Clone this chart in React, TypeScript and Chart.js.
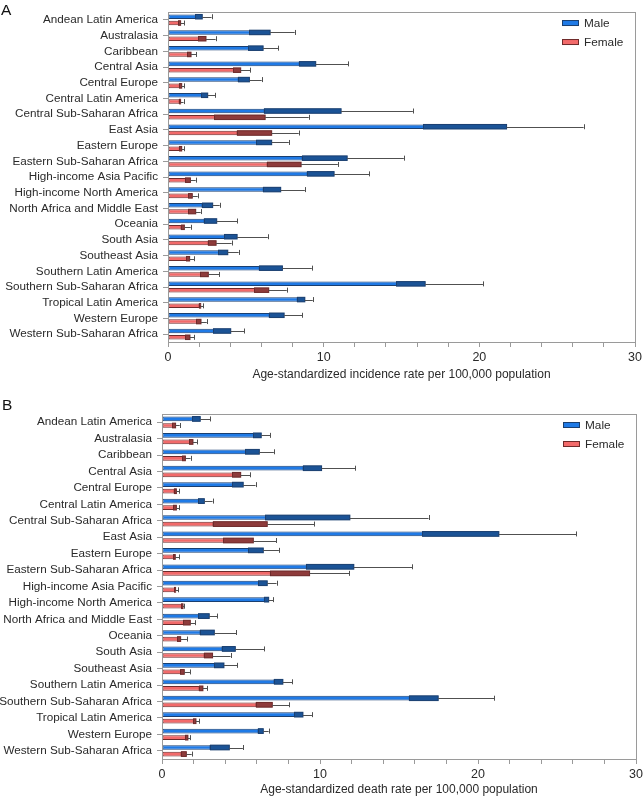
import React, { useEffect, useRef } from "react";
import { Chart, registerables } from "chart.js";
Chart.register(...registerables);

const regions = [
  "Andean Latin America", "Australasia", "Caribbean", "Central Asia", "Central Europe",
  "Central Latin America", "Central Sub-Saharan Africa", "East Asia", "Eastern Europe",
  "Eastern Sub-Saharan Africa", "High-income Asia Pacific", "High-income North America",
  "North Africa and Middle East", "Oceania", "South Asia", "Southeast Asia",
  "Southern Latin America", "Southern Sub-Saharan Africa", "Tropical Latin America",
  "Western Europe", "Western Sub-Saharan Africa",
];

const incMale = [2.2, 6.56, 6.11, 9.49, 5.23, 2.55, 11.12, 21.75, 6.66, 11.51, 10.67, 7.24, 2.87, 3.13, 4.44, 3.84, 7.35, 16.52, 8.79, 7.46, 4.03];
const incMaleLow = [1.76, 5.23, 5.16, 8.4, 4.48, 2.14, 6.15, 16.41, 5.68, 8.59, 8.91, 6.09, 2.16, 2.29, 3.62, 3.24, 5.83, 14.66, 8.27, 6.47, 2.89];
const incMaleUp = [2.8, 8.14, 7.09, 11.57, 6.02, 3.02, 15.73, 26.7, 7.76, 15.15, 12.92, 8.79, 3.32, 4.44, 6.41, 4.54, 9.24, 20.23, 9.3, 8.61, 4.91];
const incFemale = [0.81, 2.44, 1.48, 4.67, 0.88, 0.81, 6.24, 6.66, 0.88, 8.55, 1.44, 1.56, 1.78, 1.05, 3.09, 1.39, 2.59, 6.47, 2.1, 2.12, 1.41];
const incFemaleLow = [0.66, 1.95, 1.24, 4.18, 0.7, 0.69, 2.96, 4.41, 0.7, 6.34, 1.11, 1.31, 1.31, 0.81, 2.55, 1.16, 2.06, 5.55, 1.97, 1.82, 1.11];
const incFemaleUp = [1.05, 3.06, 1.8, 5.29, 1.05, 1.0, 9.04, 8.4, 1.05, 10.91, 1.78, 1.91, 2.1, 1.46, 4.09, 1.69, 3.28, 7.63, 2.27, 2.49, 1.69];

const deathMale = [2.42, 6.28, 6.16, 10.1, 5.14, 2.68, 11.89, 21.32, 6.41, 12.14, 6.66, 6.75, 2.99, 3.31, 4.64, 3.92, 7.65, 17.48, 8.92, 6.41, 4.26];
const deathMaleLow = [1.92, 5.78, 5.27, 8.9, 4.45, 2.28, 6.54, 16.47, 5.46, 9.11, 6.09, 6.45, 2.28, 2.38, 3.77, 3.29, 7.06, 15.62, 8.35, 6.05, 3.01];
const deathMaleUp = [3.06, 6.85, 7.08, 12.23, 5.92, 3.2, 16.87, 26.21, 7.4, 15.83, 7.25, 7.04, 3.5, 4.7, 6.47, 4.76, 8.24, 21.04, 9.49, 6.75, 5.12];
const deathFemale = [0.86, 1.96, 1.48, 4.98, 0.91, 0.91, 6.66, 5.78, 0.84, 9.34, 0.86, 1.33, 1.79, 1.18, 3.2, 1.41, 2.59, 6.98, 2.15, 1.64, 1.54];
const deathFemaleLow = [0.65, 1.71, 1.29, 4.45, 0.74, 0.7, 3.2, 3.86, 0.7, 6.83, 0.76, 1.2, 1.33, 0.95, 2.64, 1.16, 2.32, 5.92, 1.96, 1.48, 1.18];
const deathFemaleUp = [1.12, 2.21, 1.81, 5.59, 1.08, 1.08, 9.64, 7.23, 1.08, 11.85, 1.03, 1.41, 2.11, 1.58, 4.34, 1.77, 2.85, 8.05, 2.36, 1.77, 1.88];

const xTicks = [0, 10, 20, 30];
const seriesNames = ["Male", "Female"];

const FONT = "'Liberation Sans', Arial, Helvetica, sans-serif";
const TEXT = "#2a2a2a";
const AXIS = "#9a9a9a";

const MALE = { fill: "#1f7ae6", dark: "#1b5396", border: "#1a3f70" };
const FEMALE = { fill: "#f26a6a", dark: "#8e3b3b", border: "#6e2a2a" };

const errorPlugin = {
  id: "errorBars",
  afterDatasetsDraw(chart: any) {
    const ctx = chart.ctx;
    const xs = chart.scales.x;
    chart.data.datasets.forEach((ds: any, di: number) => {
      const meta = chart.getDatasetMeta(di);
      meta.data.forEach((el: any, i: number) => {
        const h = el.height;
        const y = el.y;
        const xv = el.x;
        const xl = xs.getPixelForValue(ds.lower[i]);
        const xu = xs.getPixelForValue(ds.upper[i]);
        ctx.save();
        ctx.fillStyle = ds.darkColor;
        ctx.fillRect(xl, y - h / 2, xv - xl, h);
        ctx.strokeStyle = ds.borderColor;
        ctx.lineWidth = 1;
        ctx.strokeRect(Math.round(xl) + 0.5, y - h / 2, xv - Math.round(xl) - 0.5, h);
        ctx.strokeStyle = "#505050";
        ctx.beginPath();
        ctx.moveTo(xv, Math.round(y) + 0.5);
        ctx.lineTo(xu, Math.round(y) + 0.5);
        ctx.moveTo(Math.round(xu) + 0.5, y - 2.5);
        ctx.lineTo(Math.round(xu) + 0.5, y + 2.5);
        ctx.stroke();
        ctx.restore();
      });
    });
  },
};

const framePlugin = {
  id: "frame",
  afterDraw(chart: any) {
    const { left, right, top, bottom } = chart.chartArea;
    const ctx = chart.ctx;
    ctx.save();
    ctx.strokeStyle = AXIS;
    ctx.lineWidth = 1;
    ctx.strokeRect(Math.round(left) + 0.5, Math.round(top) + 0.5, Math.round(right - left), Math.round(bottom - top));
    const items = [
      { label: seriesNames[0], c: MALE },
      { label: seriesNames[1], c: FEMALE },
    ];
    const bx = right - 73;
    items.forEach((it, k) => {
      const cy = top + 11 + k * 19;
      ctx.fillStyle = it.c.fill;
      ctx.fillRect(bx, cy - 2.5, 17, 5);
      ctx.strokeStyle = it.c.border;
      ctx.strokeRect(bx + 0.5, cy - 2.5, 16, 5);
      ctx.fillStyle = TEXT;
      ctx.font = `11.8px ${FONT}`;
      ctx.textBaseline = "middle";
      ctx.textAlign = "left";
      ctx.fillText(it.label, bx + 22, cy + 0.5);
    });
    ctx.restore();
  },
};

function makeConfig(
  male: number[], maleLow: number[], maleUp: number[],
  female: number[], femaleLow: number[], femaleUp: number[],
  title: string, yWidth: number, xHeight: number, padding: any
): any {
  return {
    type: "bar",
    data: {
      labels: regions,
      datasets: [
        {
          label: seriesNames[0], data: male, lower: maleLow, upper: maleUp,
          backgroundColor: MALE.fill, borderColor: MALE.border, darkColor: MALE.dark,
          borderWidth: 1, borderSkipped: false,
          categoryPercentage: 0.8, barPercentage: 0.72,
        },
        {
          label: seriesNames[1], data: female, lower: femaleLow, upper: femaleUp,
          backgroundColor: FEMALE.fill, borderColor: FEMALE.border, darkColor: FEMALE.dark,
          borderWidth: 1, borderSkipped: false,
          categoryPercentage: 0.8, barPercentage: 0.72,
        },
      ],
    },
    options: {
      indexAxis: "y",
      responsive: false,
      animation: false,
      layout: { padding },
      plugins: { legend: { display: false }, tooltip: { enabled: false } },
      scales: {
        x: {
          type: "linear", min: 0, max: 30, position: "bottom",
          afterFit: (s: any) => { s.height = xHeight; s.paddingLeft = 0; s.paddingRight = 0; },
          afterBuildTicks: (s: any) => {
            const t = [];
            for (let v = 0; v <= 30; v += 2) t.push({ value: v });
            s.ticks = t;
          },
          ticks: {
            autoSkip: false, maxRotation: 0, padding: 3, color: TEXT,
            font: { family: FONT, size: 12.5 },
            callback: (v: number) => (xTicks.includes(v) ? String(v) : ""),
          },
          grid: { drawOnChartArea: false, tickLength: 5, color: AXIS },
          border: { color: AXIS },
          title: {
            display: true, text: title, color: TEXT,
            font: { family: FONT, size: 12 }, padding: { top: 2, bottom: 0 },
          },
        },
        y: {
          afterFit: (s: any) => { s.width = yWidth; },
          ticks: { padding: 5, color: TEXT, font: { family: FONT, size: 11.7 }, autoSkip: false },
          grid: { drawOnChartArea: false, tickLength: 5, color: AXIS, offset: false },
          border: { color: AXIS },
        },
      },
    },
    plugins: [errorPlugin, framePlugin],
  };
}

function Panel({ config, width, height, top }: any) {
  const ref = useRef<HTMLCanvasElement>(null);
  useEffect(() => {
    const chart = new Chart(ref.current as HTMLCanvasElement, config);
    return () => chart.destroy();
  }, []);
  return (
    <canvas
      ref={ref}
      width={width}
      height={height}
      style={{ position: "absolute", left: 0, top, width, height, display: "block" }}
    />
  );
}

export default function App() {
  const cfgA = makeConfig(incMale, incMaleLow, incMaleUp, incFemale, incFemaleLow, incFemaleUp,
    "Age-standardized incidence rate per 100,000 population", 168, 40, { left: 0, right: 8, top: 3, bottom: 8 });
  const cfgB = makeConfig(deathMale, deathMaleLow, deathMaleUp, deathFemale, deathFemaleLow, deathFemaleUp,
    "Age-standardized death rate per 100,000 population", 162, 38, { left: 0, right: 7, top: 24, bottom: 0 });
  return (
    <div style={{ position: "absolute", left: 0, top: 0, width: 643, height: 797, background: "#fff", overflow: "hidden" }}>
      <Panel config={cfgA} width={643} height={390} top={0} />
      <Panel config={cfgB} width={643} height={407} top={390} />
      <div style={{ position: "absolute", left: 1, top: 1, fontFamily: FONT, fontSize: 15.5, color: "#111", lineHeight: "18px" }}>A</div>
      <div style={{ position: "absolute", left: 2, top: 396, fontFamily: FONT, fontSize: 15.5, color: "#111", lineHeight: "18px" }}>B</div>
    </div>
  );
}
